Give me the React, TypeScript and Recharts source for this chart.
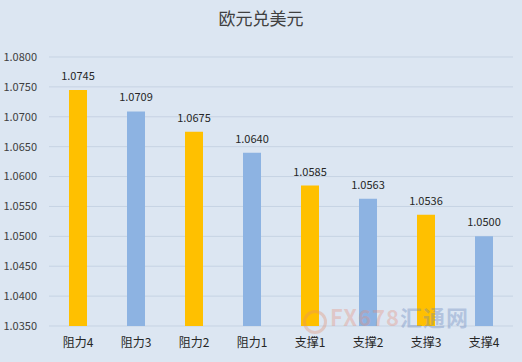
import React from "react";
import { BarChart, Bar, XAxis, YAxis, CartesianGrid, Cell, LabelList } from "recharts";

// ─── Data ────────────────────────────────────────────────────────────────────

const categories = ["阻力4", "阻力3", "阻力2", "阻力1", "支撑1", "支撑2", "支撑3", "支撑4"];
const levels = [1.0745, 1.0709, 1.0675, 1.064, 1.0585, 1.0563, 1.0536, 1.05];
const barColors = ["#FFC000", "#8DB3E2", "#FFC000", "#8DB3E2", "#FFC000", "#8DB3E2", "#FFC000", "#8DB3E2"];
const yTicks = [1.035, 1.04, 1.045, 1.05, 1.055, 1.06, 1.065, 1.07, 1.075, 1.08];

const data = categories.map((name, i) => ({ name, value: levels[i] }));

const font = '"Noto Sans CJK SC", "Microsoft YaHei", sans-serif';

export default function App() {
  return (
    <div
      style={{
        position: "fixed",
        left: 0,
        top: 0,
        width: 522,
        height: 362,
        background: "#DCE6F2",
        fontFamily: font,
        overflow: "hidden",
      }}
    >
      {/* Title */}
      <div
        style={{
          position: "absolute",
          top: 5,
          left: 0,
          width: 522,
          textAlign: "center",
          fontSize: 17,
          color: "#404040",
        }}
      >
        欧元兑美元
      </div>

      <div style={{ position: "absolute", left: 0, top: 0 }}>
        <BarChart
          width={522}
          height={362}
          data={data}
          margin={{ top: 57, right: 9, left: 0, bottom: 0 }}
          barSize={18}
        >
          <CartesianGrid stroke="#C6D3E3" vertical={false} />
          <XAxis
            dataKey="name"
            height={36}
            axisLine={false}
            tickLine={false}
            tick={{ fontSize: 12, fill: "#262626", fontFamily: font }}
            tickMargin={6}
            interval={0}
          />
          <YAxis
            domain={[1.035, 1.08]}
            ticks={yTicks}
            width={49}
            axisLine={false}
            tickLine={false}
            tick={{ fontSize: 11, fill: "#404040", fontFamily: font }}
            tickFormatter={(v: number) => v.toFixed(4)}
            tickMargin={6}
          />
          <Bar dataKey="value" isAnimationActive={false}>
            {data.map((d, i) => (
              <Cell key={d.name} fill={barColors[i]} />
            ))}
            <LabelList
              dataKey="value"
              position="top"
              offset={10}
              formatter={(v: number) => Number(v).toFixed(4)}
              style={{ fontSize: 11, fill: "#262626", fontFamily: font }}
            />
          </Bar>
        </BarChart>
      </div>

      {/* Watermark logo */}
      <div
        style={{
          position: "absolute",
          left: 303,
          top: 310,
          width: 18,
          height: 18,
          borderRadius: "50%",
          border: "3px solid rgba(225,140,110,0.35)",
          pointerEvents: "none",
        }}
      />
      {/* Watermark */}
      <div
        style={{
          position: "absolute",
          left: 330,
          top: 303,
          fontSize: 22,
          lineHeight: "26px",
          fontWeight: 700,
          color: "rgba(230,140,120,0.35)",
          letterSpacing: 1,
          pointerEvents: "none",
        }}
      >
        FX678<span style={{ color: "rgba(100,130,185,0.35)" }}>汇通网</span>
      </div>
    </div>
  );
}
